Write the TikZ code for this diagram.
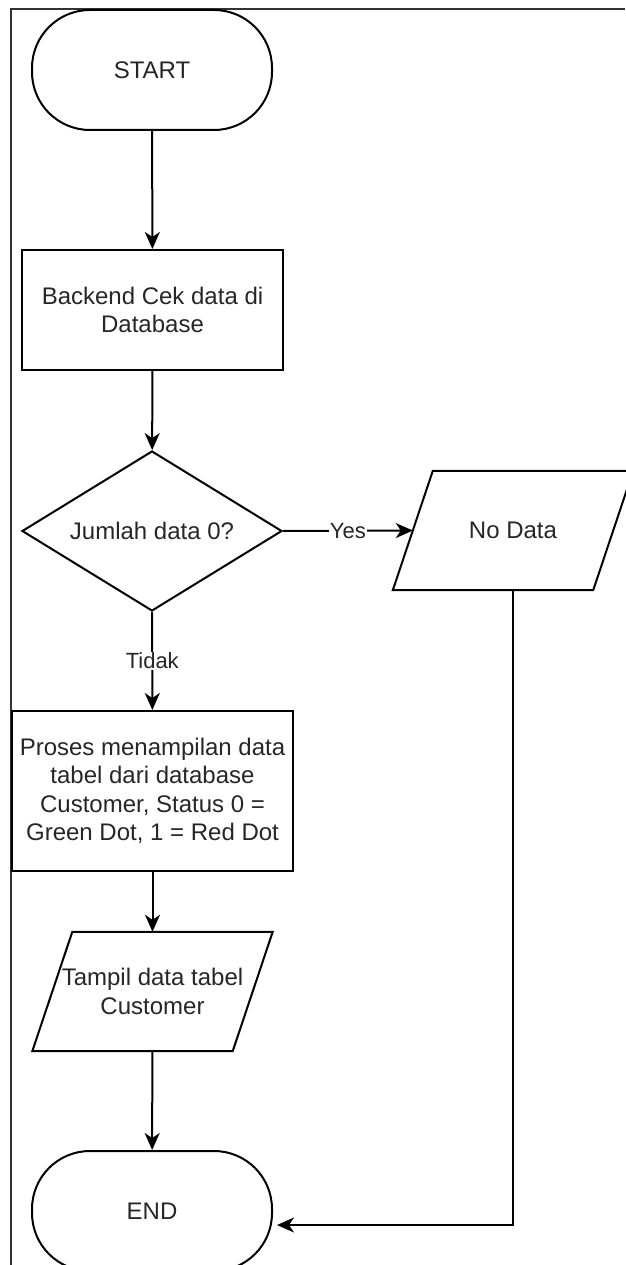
\documentclass[tikz,border=0pt]{standalone}
\usepackage{fontspec}
\setmainfont{Liberation Sans}
\usetikzlibrary{arrows.meta, shapes.geometric}

\begin{document}
\begin{tikzpicture}[x=1pt,y=-1pt,
  every node/.style={font=\fontsize{24}{28.5}\selectfont, text=black!85},
  terminal/.style={draw, line width=2pt, rectangle, rounded corners=58pt,
    minimum width=240pt, minimum height=120pt},
  proc/.style={draw, line width=2pt, rectangle, align=center},
  decision/.style={draw, line width=2pt, diamond, aspect=1.625, inner sep=0pt,
    minimum width=260pt, minimum height=160pt},
  io/.style={rectangle, minimum width=200pt, minimum height=119pt, align=center,
    append after command={\pgfextra{
      \draw[line width=2pt, line join=miter]
        ([xshift=-20pt]\tikzlastnode.south west) -- ([xshift=20pt]\tikzlastnode.north west)
        -- ([xshift=20pt]\tikzlastnode.north east) -- ([xshift=-20pt]\tikzlastnode.south east)
        -- cycle;}}},
  flow/.style={line width=2pt, -{Stealth[length=17pt,width=15pt,inset=5pt]}},
  lbl/.style={fill=white, inner sep=1pt, font=\fontsize{22}{26}\selectfont}]
  \useasboundingbox (0,0) rectangle (625,1265);
  %\draw (0, 0) grid (625, 1265);

  % page border
  \draw[line width=1.5pt, black!80] (11,1265) -- (11,9) -- (625,9);

  \node[terminal] (start) at (152,70) {START};
  \node[proc, minimum width=261pt, minimum height=120pt] (cek) at (152.5,310)
    {Backend Cek data di\\Database};
  \node[decision] (cond) at (152,531) {Jumlah data 0?};
  \node[io] (nodata) at (513,530.5) {No Data};
  \node[proc, minimum width=281pt, minimum height=160pt] (proses) at (152.5,791)
    {Proses menampilan data\\tabel dari database\\Customer, Status 0 =\\Green Dot, 1 = Red Dot};
  \node[io] (tampil) at (152.5,991.5) {Tampil data tabel\\Customer};
  \node[terminal] (finish) at (152,1211) {END};

  \draw[flow] (start) -- (cek);
  \draw[flow] (cek) -- (cond);
  \draw[flow] (cond.east) -- node[lbl] {Yes} (nodata.west);
  \draw[flow] (cond) -- node[lbl] {Tidak} (proses);
  \draw[flow] (proses) -- (tampil);
  \draw[flow] (tampil) -- (finish);

  % no data goes straight to the end
  \draw[flow] (nodata.south) |- ([xshift=4pt,yshift=-14pt]finish.east);

\end{tikzpicture}
\end{document}
